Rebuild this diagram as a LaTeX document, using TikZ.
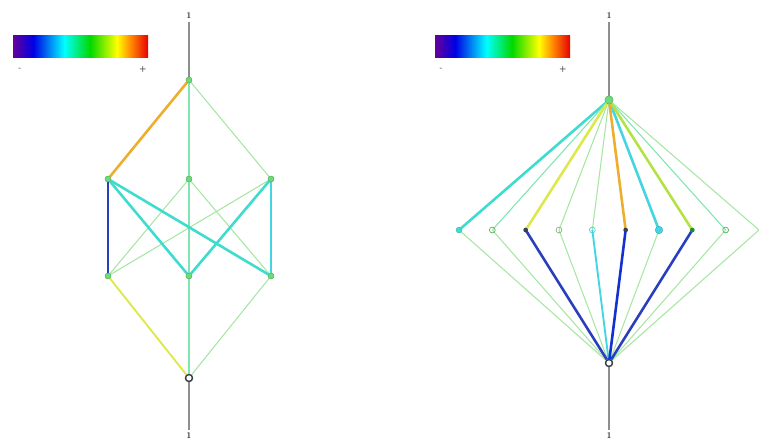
\documentclass[tikz,border=0pt]{standalone}
\usepackage{tikz}
\usetikzlibrary{positioning,calc}
\definecolor{edgeorange}{HTML}{ECAE2C}
\definecolor{edgeyellow}{HTML}{DDE84A}
\definecolor{edgelime}{HTML}{B4E244}
\definecolor{edgeblue}{HTML}{2A3FBE}
\definecolor{edgedeep}{HTML}{1530D2}
\definecolor{edgecyan}{HTML}{3EDCCF}
\definecolor{edgesky}{HTML}{44D4E2}
\definecolor{edgemint}{HTML}{7EE6AE}
\definecolor{edgelight}{HTML}{A6E6A2}
\definecolor{vtxgreen}{HTML}{6EDB7A}
\definecolor{vtxdark}{HTML}{3A3F4A}
\definecolor{axisgray}{HTML}{8E8E8E}
\pgfdeclarehorizontalshading{rainbow}{100bp}{color(0bp)=(violet!80!blue);
  color(25bp)=(violet!80!blue); color(32.5bp)=(blue!90!black);
  color(44bp)=(cyan); color(53.5bp)=(green!85!black); color(63.5bp)=(yellow);
  color(69bp)=(orange); color(75bp)=(red!90!black); color(100bp)=(red!90!black)}

\begin{document}
\begin{tikzpicture}[x=0.03cm,y=-0.03cm,
  vtx/.style={circle, inner sep=0pt, minimum size=5pt, fill=vtxgreen, draw=vtxgreen!80!black, line width=0.3pt},
  hollow/.style={circle, inner sep=0pt, minimum size=5pt, draw=#1, line width=0.6pt},
  dark/.style={circle, inner sep=0pt, minimum size=4pt, fill=vtxdark},
  bottomvtx/.style={circle, inner sep=0pt, minimum size=6pt, draw=vtxdark, line width=1pt},
  tag/.style={font=\sffamily\bfseries\scriptsize, inner sep=2pt, text=vtxdark},
  thinedge/.style={line width=0.9pt},
  midedge/.style={line width=1.6pt},
  thickedge/.style={line width=2.2pt},
  axis/.style={axisgray, line width=1.4pt}]
\useasboundingbox (0,0) rectangle (759,443);

% colour scales
\shade[shading=rainbow] (13,35) rectangle (148,57);
\node[tag] (lminus) at (20,69) {-};
\node[tag] (lplus) at (143,69) {+};
\shade[shading=rainbow] (435,35) rectangle (570,57);
\node[tag] (rminus) at (441,69) {-};
\node[tag] (rplus) at (563,69) {+};

% left lattice
\node[tag] (ltop) at (189,16) {1};
\node[tag] (lbot) at (189,436) {1};
\node[vtx] (t1) at (189,80) {};
\node[vtx] (l1) at (108,179) {};
\node[vtx] (c1) at (189,179) {};
\node[vtx] (r1) at (271,179) {};
\node[vtx] (l2) at (108,276) {};
\node[vtx] (c2) at (189,276) {};
\node[vtx] (r2) at (271,276) {};
\node[bottomvtx] (b1) at (189,378) {};

\draw[axis] (ltop) -- (t1);
\draw[axis] (b1) -- (lbot);
\draw[thinedge, edgelight] (t1) -- (r1);
\draw[thinedge, edgelight] (c1) -- (l2);
\draw[thinedge, edgelight] (c1) -- (r2);
\draw[thinedge, edgelight] (r1) -- (l2);
\draw[thinedge, edgelight] (r2) -- (b1);
\draw[midedge, edgemint] (t1) -- (c1);
\draw[midedge, edgemint] (c1) -- (c2);
\draw[midedge, edgemint] (c2) -- (b1);
\draw[midedge, edgesky] (r1) -- (r2);
\draw[midedge, edgeyellow] (l2) -- (b1);
\draw[thickedge, edgecyan] (l1) -- (c2);
\draw[thickedge, edgecyan] (l1) -- (r2);
\draw[thickedge, edgecyan] (r1) -- (c2);
\draw[thickedge, edgeblue] (l1) -- (l2);
\draw[thickedge, edgeorange] (t1) -- (l1);
\foreach \n in {t1,l1,c1,r1,l2,c2,r2}
  \node[vtx] at (\n) {};
\node[bottomvtx] at (b1) {};

% right lattice
\node[tag] (rtop) at (609,16) {1};
\node[tag] (rbot) at (609,436) {1};
\node[vtx, minimum size=7pt] (t2) at (609,100) {};
\node[bottomvtx] (b2) at (609,363) {};
\foreach \i in {1,...,9}
  \coordinate (m\i) at ({459+(\i-1)*33.33},230);
\coordinate (m10) at (759,230);

\draw[axis] (rtop) -- (t2);
\draw[axis] (b2) -- (rbot);
\foreach \i/\ct/\st/\cb/\sb in {
  1/edgecyan/thickedge/edgelight/thinedge,
  2/edgemint/thinedge/edgelight/thinedge,
  4/edgelight/thinedge/edgelight/thinedge,
  5/edgelight/thinedge/edgesky/midedge,
  7/edgesky/thickedge/edgelight/thinedge,
  9/edgemint/thinedge/edgelight/thinedge,
  10/edgelight/thinedge/edgelight/thinedge,
  3/edgeyellow/thickedge/edgeblue/thickedge,
  8/edgelime/thickedge/edgeblue/thickedge,
  6/edgeorange/thickedge/edgedeep/thickedge}
{
  \draw[\st, \ct] (t2) -- (m\i);
  \draw[\sb, \cb] (m\i) -- (b2);
}

\node[vtx, fill=edgecyan, draw=edgecyan!80!black] (v1) at (m1) {};
\node[hollow=vtxgreen!80!black] (v2) at (m2) {};
\node[dark] (v3) at (m3) {};
\node[hollow=edgelight!80!black] (v4) at (m4) {};
\node[hollow=edgesky] (v5) at (m5) {};
\node[dark] (v6) at (m6) {};
\node[vtx, minimum size=6.5pt, fill=edgesky, draw=edgesky!80!black] (v7) at (m7) {};
\node[dark, fill=vtxdark!60!green] (v8) at (m8) {};
\node[hollow=vtxgreen!80!black] (v9) at (m9) {};
\node[vtx, minimum size=7pt] at (t2) {};
\node[bottomvtx] at (b2) {};
\end{tikzpicture}
\end{document}
